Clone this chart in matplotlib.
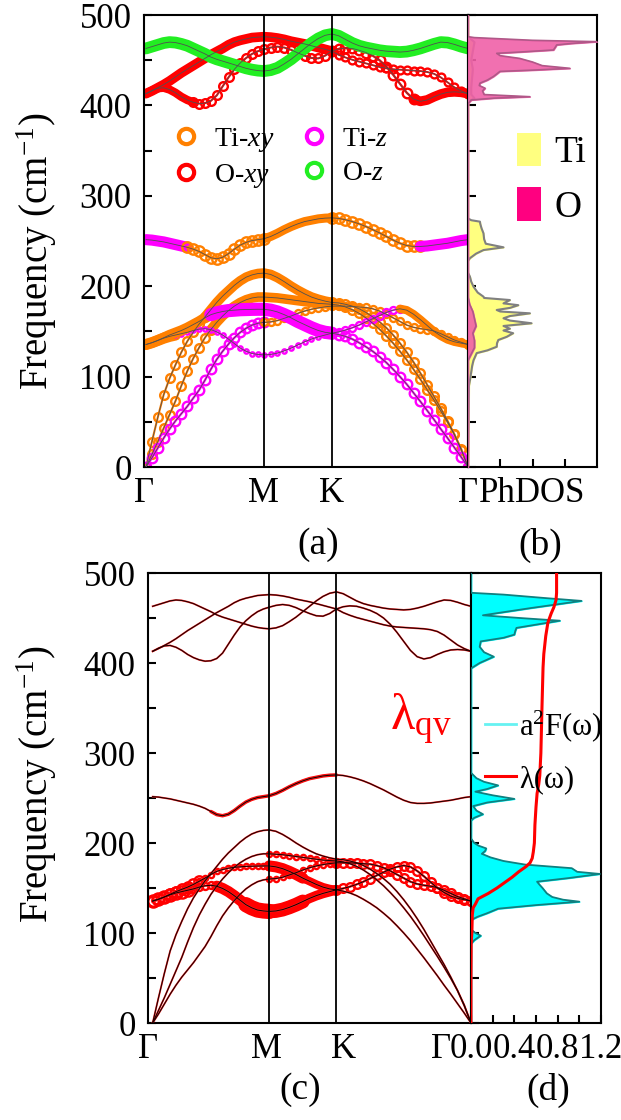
import numpy as np
import matplotlib
matplotlib.use("Agg")
import matplotlib.pyplot as plt
from matplotlib.lines import Line2D
from matplotlib.patches import Patch
from matplotlib.ticker import MultipleLocator

plt.rcParams['font.family'] = 'serif'
plt.rcParams['font.serif'] = ['Liberation Serif', 'Times New Roman', 'DejaVu Serif']
plt.rcParams['mathtext.fontset'] = 'custom'
plt.rcParams['mathtext.rm'] = 'Liberation Serif'
plt.rcParams['mathtext.it'] = 'Liberation Serif:italic'
plt.rcParams['mathtext.bf'] = 'Liberation Serif:bold'

# ------------------------------------------------------------------ data
path_labels = ['Γ', 'M', 'K', 'Γ']
path_nodes = [0.0, 1.0, 1.577, 2.732]

# phonon branches (cm-1), sampled Γ-M (21 pts), M-K (10), K-Γ (20)
band_R1 = [413, 416, 419.5, 423, 427, 431.5, 436, 440, 444, 448, 452, 456, 459.5, 463, 467, 470, 472, 473.5, 475, 475.5, 476,
           475.5, 474.5, 473, 471, 469.5, 468, 466, 464, 462, 460,
           456, 453, 450.5, 448.5, 446.5, 444.5, 442.5, 441, 440, 439.5, 439, 438.5, 438, 437, 435, 431, 425.5, 420, 416, 413]
band_R2 = [413, 416.5, 419, 419.5, 417.5, 414, 409.5, 406, 403.5, 402, 402.5, 405, 411, 421, 431, 440, 447, 452.5, 457, 460, 462,
           464, 465, 464, 461.5, 458, 455, 452.5, 452, 455, 460,
           462.5, 463.5, 463, 461, 458.5, 455, 450, 443, 434, 424, 414, 407, 404.5, 406, 409.5, 412.5, 414.5, 415, 414.5, 413]
band_G = [463, 465, 467, 469, 470, 469.5, 468, 466, 463, 460, 457, 453.5, 451, 449, 447, 445, 443, 441, 439.5, 438.5, 438,
          439, 441.5, 446, 451, 457, 463, 469, 474, 477.5, 479,
          477, 473, 469, 466, 464, 462.5, 461, 460, 459.5, 459, 459.5, 461, 463, 465.5, 468, 470, 469.5, 467.5, 465, 463]
band_C6 = [251.5, 251, 250, 249, 247.5, 246, 244.5, 243, 241, 238.5, 235, 231.5, 230.3, 232, 236, 241, 245.5, 248.5, 250.5, 251.5, 252.5,
           255, 258.5, 262.5, 266, 269, 271.5, 273, 274.5, 275.3, 275.6,
           275, 273.5, 271.5, 269, 266, 262.5, 259, 255, 251, 247.5, 245, 244, 244, 244.5, 245.5, 246.5, 247.5, 249, 250.5, 251.5]
band_C1 = [0, 28, 55, 80, 98, 113, 127, 139, 149, 158, 166, 174, 182, 189, 195, 201, 206, 210, 212.5, 214, 214.5,
           213, 209.5, 205, 200, 195.5, 191.5, 188, 185.5, 183.5, 182,
           181.5, 180, 178, 175, 171, 166, 160.5, 154, 146, 137, 127, 116, 104, 91, 78, 65, 51, 36, 19, 0]
band_C4 = [0, 14, 28, 43, 58, 73, 90, 106, 120, 132, 143, 152, 160, 167, 173, 178, 182, 185, 187, 188, 188,
           187.5, 187, 186, 185, 184, 183, 182, 181, 180.5, 180,
           179, 177, 174, 170, 165, 159, 152.5, 145, 137, 128, 118.5, 108, 97, 85.5, 74, 62, 49.5, 36, 20, 0]
band_C3 = [0, 10, 21, 32, 42, 51, 59, 67, 76, 85, 96, 108, 119, 128, 136, 143, 149, 153.5, 157, 159, 160,
           160.5, 162, 164.5, 167, 170, 172.5, 174.5, 176, 177.2, 178,
           178, 178, 177.5, 177, 176.5, 175, 172.5, 169, 165, 161, 157, 154.5, 153, 152, 150.5, 147.5, 144, 140.5, 138, 135.5]
band_C5 = [135.5, 137.5, 140, 142.5, 144.5, 146, 147.5, 149, 151, 152.5, 153, 152, 149.5, 146, 141.5, 136.5, 131.5, 128, 125.5, 124.5, 124,
           124.5, 126, 128.5, 131.5, 135, 138.5, 141.5, 144, 146, 148,
           149.5, 151.5, 154, 157, 160.5, 164, 167.5, 171, 173.5, 175, 173.5, 169, 163, 156.5, 150, 145, 141, 138.5, 137, 135.5]
band_C2 = [135.5, 137.5, 140, 143, 146, 148.5, 151, 154, 157.5, 161, 165, 168.5, 170.5, 172, 173, 173.5, 174, 174.2, 174.4, 174.5, 174.5,
           173.5, 171.5, 168.5, 165, 161, 157.5, 154, 151, 149, 148,
           146.5, 144.5, 141.5, 137.5, 133, 128, 122, 115.5, 108, 100, 91.5, 82, 72.5, 62.5, 52.5, 42, 32, 21.5, 11, 0]

# projected phonon DOS (b)
ti_freq = [0, 60, 90, 96, 105, 112, 118, 122, 126, 129, 133, 137, 140.5, 144, 148, 151, 153, 156, 159, 162, 164.5, 167, 170, 172,
           173.7, 176, 179, 181, 184.7, 187, 188.4, 193, 199.5, 205, 210.5, 215, 228, 231, 236, 240, 243, 247, 252, 258.5,
           264, 269, 271.4, 273, 275, 404, 408, 412, 420, 440, 450, 460, 470, 476, 500]
ti_dos = [0, 0.02, 0.03, 0.06, 0.1, 0.13, 0.17, 0.22, 0.27, 0.6, 0.89, 0.9, 0.94, 1.2, 1.4, 1.1, 1.3, 1.1, 1.97, 1.3, 1.1, 1.3, 1.92, 1.0,
          0.89, 1.3, 1.56, 1.1, 1.3, 0.5, 0.48, 0.3, 0.17, 0.1, 0.06, 0, 0, 0.06, 0.25, 0.48, 1.1, 0.55, 0.5, 0.48,
          0.42, 0.38, 0.37, 0.1, 0, 0, 0.2, 0.1, 0.1, 0.15, 0.1, 0.15, 0.2, 0, 0]
o_freq = [0, 118, 125, 132, 140, 148, 156, 164, 172, 180, 188, 402, 404, 406, 408, 409.6, 412, 416, 419, 422, 424.6, 428, 432, 435,
          437.6, 439, 441, 444, 448, 452, 455, 457.6, 459, 461.3, 464, 466.9, 468.5, 470.5, 472, 474, 475, 476, 500]
o_dos = [0, 0, 0.1, 0.2, 0.2, 0.15, 0.25, 0.2, 0.15, 0.05, 0, 0, 0.05, 0.1, 0.8, 1.92, 0.5, 0.45, 0.53, 0.35, 0.37, 0.6, 0.79, 0.9,
         0.99, 2.0, 3.16, 2.3, 2.0, 1.6, 1.0, 0.89, 1.6, 2.65, 2.7, 2.75, 3.2, 4.0, 2.0, 0.8, 0.2, 0, 0]

# Eliashberg function and cumulative coupling (d)
a2f_freq = [0, 88, 92, 97, 100, 104, 110, 115, 118, 122, 127, 131, 134.8, 137, 140, 144, 150, 154, 157, 161, 165.6, 168, 172, 176,
            180, 184, 188, 191, 194, 197, 200, 205, 225, 228, 232, 236, 241, 245, 249, 253, 257, 260, 264, 268, 272, 278,
            394, 400, 407, 412, 418, 424, 428, 431.5, 436, 439, 443, 447, 450, 453, 461, 469, 472, 476, 478, 500]
a2f_val = [0, 0, 0.03, 0.09, 0.04, 0, 0, 0.01, 0.06, 0.15, 0.25, 0.6, 1.0, 0.85, 0.75, 0.7, 0.66, 0.63, 0.61, 0.9, 1.19, 0.98, 0.93, 0.5,
           0.3, 0.18, 0.1, 0.13, 0.14, 0.07, 0.03, 0, 0, 0.03, 0.11, 0.05, 0.02, 0.15, 0.4, 0.2, 0.04, 0.15, 0.25, 0.12, 0.05, 0,
           0, 0.08, 0.21, 0.12, 0.08, 0.09, 0.3, 0.4, 0.41, 0.42, 0.62, 0.82, 0.45, 0.11, 0.55, 1.02, 0.7, 0.3, 0, 0]
lam_freq = [0, 50, 90, 100, 120, 128, 132, 138, 144, 150, 156, 162, 168, 174, 178, 183, 190, 200, 220, 240, 255, 265, 275, 300, 350,
            395, 410, 430, 445, 455, 462, 470, 478, 500]
lam_val = [0, 0, 0.002, 0.008, 0.012, 0.02, 0.04, 0.065, 0.16, 0.24, 0.31, 0.38, 0.44, 0.51, 0.545, 0.565, 0.575, 0.585, 0.59, 0.60,
           0.61, 0.625, 0.635, 0.645, 0.655, 0.665, 0.672, 0.69, 0.71, 0.74, 0.765, 0.785, 0.79, 0.79]

# ------------------------------------------------------------------ styles
q = np.concatenate([np.linspace(path_nodes[0], path_nodes[1], 21),
                    np.linspace(path_nodes[1], path_nodes[2], 11)[1:],
                    np.linspace(path_nodes[2], path_nodes[3], 21)[1:]])

COL = {'o': '#FF8000', 'm': '#FF00FF', 'r': '#FF0000', 'g': '#22EE22'}
branches = [('R1', band_R1), ('R2', band_R2), ('G', band_G), ('C6', band_C6), ('C1', band_C1),
            ('C4', band_C4), ('C3', band_C3), ('C5', band_C5), ('C2', band_C2)]
proj_style = {
    'R1': [(0, 30, 'r', 7, 'band'), (30, 50, 'r', 4.5, 'ring')],
    'R2': [(0, 8, 'r', 6, 'band'), (8, 30, 'r', 5, 'ring'), (30, 42, 'r', 5.5, 'ring'), (42, 50, 'r', 7, 'band')],
    'G': [(0, 50, 'g', 8.5, 'band')],
    'C6': [(0, 7, 'm', 8, 'band'), (7, 20, 'o', 6, 'ring'), (20, 30, 'o', 6.5, 'band'), (30, 43, 'o', 6, 'ring'),
           (43, 50, 'm', 8, 'band')],
    'C1': [(0, 10, 'o', 5, 'ring'), (10, 30, 'o', 7, 'band'), (30, 50, 'o', 5, 'ring')],
    'C4': [(0, 11, 'o', 5, 'ring'), (11, 30, 'o', 7, 'band'), (30, 50, 'o', 5, 'ring')],
    'C3': [(0, 20, 'm', 5.5, 'ring'), (20, 50, 'o', 4, 'ring')],
    'C5': [(0, 5, 'o', 8, 'band'), (5, 30, 'm', 2.5, 'ring'), (30, 40, 'm', 4, 'ring'), (40, 50, 'o', 6, 'band')],
    'C2': [(0, 11, 'o', 7.5, 'band'), (11, 30, 'm', 9.5, 'band'), (30, 50, 'm', 5.5, 'ring')],
}
lam_style = {
    'C5': [(0, 6, 7, 'ring'), (6, 11, 4, 'ring'), (11, 16, 8, 'band'), (16, 20, 11, 'band'), (20, 25, 10, 'band'),
           (25, 30, 7, 'band'), (30, 50, 5, 'ring')],
    'C2': [(0, 8, 6, 'ring'), (8, 20, 3, 'ring'), (20, 25, 8, 'band'), (25, 30, 6, 'band')],
    'C4': [(20, 30, 3, 'ring')],
    'C3': [(20, 30, 3, 'ring'), (30, 50, 5, 'ring')],
    'C6': [(10, 30, 2.5, 'band')],
}


def draw_run(ax, xs, ys, color, size, kind, z=2):
    if kind == 'band':
        ax.plot(xs, ys, color=color, lw=size, solid_capstyle='round', solid_joinstyle='round', zorder=z)
    else:
        ax.plot(xs, ys, color=color, lw=size * 0.3, zorder=z)
        ax.plot(xs, ys, ls='none', marker='o', ms=size * 1.25, mfc='none', mec=color, mew=1.7, zorder=z)


W, H = 621, 1120
fig = plt.figure(figsize=(W / 100, H / 100), dpi=100)


def rect(l, r, t, b):
    return [l / W, 1 - b / H, (r - l) / W, (b - t) / H]


ax_a = fig.add_axes(rect(144, 468, 15, 467))
ax_b = fig.add_axes(rect(468, 597, 15, 467))
ax_c = fig.add_axes(rect(148, 471, 573, 1023))
ax_d = fig.add_axes(rect(471, 601, 573, 1023))

TICK_FS = 25
for ax in (ax_a, ax_b, ax_c, ax_d):
    ax.set_ylim(0, 500)
    ax.yaxis.set_major_locator(MultipleLocator(100))
    ax.yaxis.set_minor_locator(MultipleLocator(50))
    ax.tick_params(axis='y', which='both', direction='in', width=1.5, left=True, right=False)
    ax.tick_params(axis='y', which='major', length=6)
    ax.tick_params(axis='y', which='minor', length=6)
    for s in ax.spines.values():
        s.set_linewidth(1.5)
for ax in (ax_b, ax_d):
    ax.tick_params(axis='y', labelleft=False)
for ax in (ax_a, ax_c):
    ax.tick_params(axis='y', labelsize=TICK_FS, pad=9)
    ax.set_xlim(path_nodes[0], path_nodes[-1])
    for xn in path_nodes[1:3]:
        ax.axvline(xn, color='black', lw=1.3, zorder=5)
    ax.set_ylabel('Frequency (cm$^{-1}$)', fontsize=28)

ax_a.yaxis.set_label_coords(-0.262, 0.478)
ax_c.yaxis.set_label_coords(-0.275, 0.53)

# ---- (a) projected phonon bands
for name, fb in branches:
    fb = np.asarray(fb, float)
    for (i0, i1, c, sz, kind) in proj_style[name]:
        draw_run(ax_a, q[i0:i1 + 1], fb[i0:i1 + 1], COL[c], sz, kind)
for name, fb in branches:
    ax_a.plot(q, fb, color='#505050', lw=0.6, zorder=4)
ax_a.set_xticks([-0.017, 1.0, 1.577, 2.732])
ax_a.set_xticklabels(path_labels, fontsize=25)
ax_a.tick_params(axis='x', length=0, pad=7)

leg_a = [Line2D([], [], ls='none', marker='o', ms=11, mfc='none', mec=COL['o'], mew=3, label='Ti-$xy$'),
         Line2D([], [], ls='none', marker='o', ms=11, mfc='none', mec=COL['r'], mew=3, label='O-$xy$'),
         Line2D([], [], ls='none', marker='o', ms=11, mfc='none', mec=COL['m'], mew=3, label='Ti-$z$'),
         Line2D([], [], ls='none', marker='o', ms=11, mfc='none', mec=COL['g'], mew=3, label='O-$z$')]
ax_a.legend(handles=leg_a, ncol=2, loc='upper left', bbox_to_anchor=(0.095, 0.755), frameon=False,
            fontsize=20, handlelength=0.8, handletextpad=0.6, columnspacing=1.05, labelspacing=0.3,
            borderpad=0, borderaxespad=0)

# ---- (b) PhDOS
ax_b.fill_betweenx(ti_freq, 0, ti_dos, color='#FFFF80', zorder=2)
ax_b.plot(ti_dos, ti_freq, color='#808080', lw=1.5, zorder=3)
ax_b.fill_betweenx(o_freq, 0, o_dos, color='#F060A8', alpha=0.9, zorder=4)
ax_b.plot(o_dos, o_freq, color='#B05888', lw=1.2, zorder=5)
ax_b.set_xlim(0, 4)
ax_b.set_xticks([1, 2, 3])
ax_b.tick_params(axis='x', direction='in', length=6, width=1.5, labelbottom=False)
ax_b.text(0.5, -0.022, 'PhDOS', transform=ax_b.transAxes, ha='center', va='top', fontsize=25)
ax_b.legend(handles=[Patch(fc='#FFFF80', ec='none', label='Ti'), Patch(fc='#FF0080', ec='none', label='O')],
            loc='upper left', bbox_to_anchor=(0.38, 0.74), frameon=False, fontsize=27,
            handlelength=0.65, handleheight=1.0, handletextpad=0.35, labelspacing=0.45, borderpad=0, borderaxespad=0)

# ---- (c) e-ph coupling on bands
for name, fb in branches:
    fb = np.asarray(fb, float)
    for (i0, i1, sz, kind) in lam_style.get(name, []):
        draw_run(ax_c, q[i0:i1 + 1], fb[i0:i1 + 1], '#FF0000', sz, kind)
    ax_c.plot(q, fb, color='#FF3030', lw=1.3, zorder=3)
    ax_c.plot(q, fb, color='#200000', lw=0.8, zorder=4)
ax_c.set_xticks([-0.04, 0.975, 1.64, 2.478])
ax_c.set_xticklabels(path_labels, fontsize=25)
ax_c.tick_params(axis='x', length=0, pad=7)
ax_c.text(2.30, 337, r'$\mathrm{\lambda}_{\mathrm{qv}}$', color='#FF0000', fontsize=36, ha='center', va='center')

# ---- (d) a2F and lambda
ax_d.fill_betweenx(a2f_freq, 0, a2f_val, color='#00FFFF', zorder=2)
ax_d.plot(a2f_val, a2f_freq, color='#108080', lw=1.3, zorder=3)
ax_d.plot(lam_val, lam_freq, color='#FF0000', lw=2.2, zorder=4)
ax_d.set_xlim(0, 1.2)
ax_d.set_xticks([0.0, 0.4, 0.8, 1.2])
ax_d.set_xticklabels(['0.0', '0.4', '0.8', '1.2'], fontsize=TICK_FS)
ax_d.xaxis.set_minor_locator(MultipleLocator(0.2))
ax_d.tick_params(axis='x', which='both', direction='in', length=6, width=1.5, pad=7)
ax_d.legend(handles=[Line2D([], [], color='#66F2F2', lw=2, label='a$^{2}$F(ω)'),
                     Line2D([], [], color='#FF0000', lw=2.2, label='λ(ω)')],
            loc='upper left', bbox_to_anchor=(0.11, 0.70), frameon=False, fontsize=22,
            handlelength=1.0, handletextpad=0.1, labelspacing=0.7, borderpad=0, borderaxespad=0)

# panel labels
for txt, x, y in [('(a)', 318, 545), ('(b)', 540, 545), ('(c)', 300, 1090), ('(d)', 548, 1090)]:
    fig.text(x / W, 1 - y / H, txt, ha='center', va='center', fontsize=27)

fig.savefig('out.png', dpi=100)
